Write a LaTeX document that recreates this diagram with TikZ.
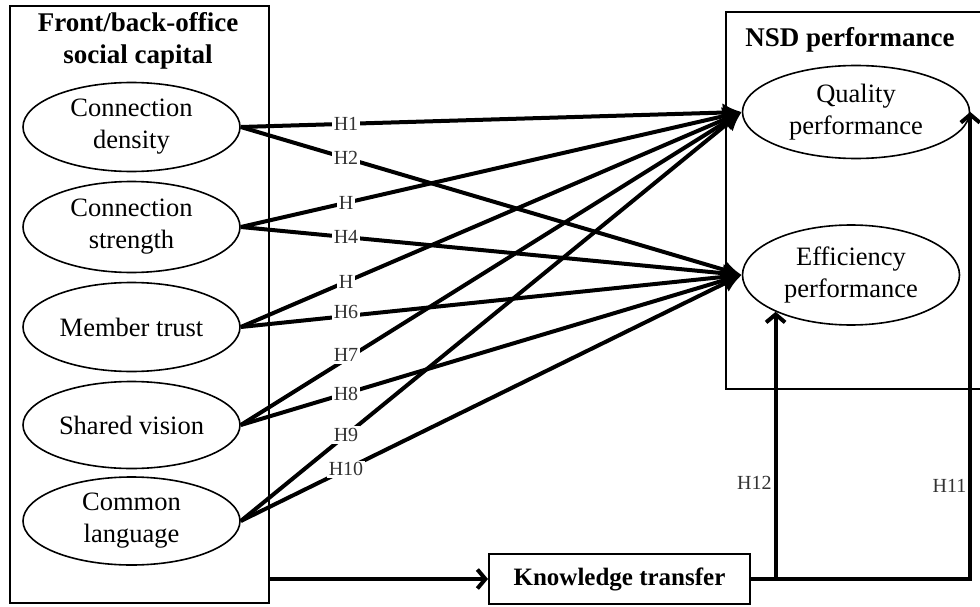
\documentclass[tikz,border=0pt]{standalone}
\usepackage{fontspec}
\setmainfont{Liberation Serif}
\usepackage{tikz}
\usetikzlibrary{shapes.geometric,arrows.meta}
\tikzstyle{factor}=[ellipse,draw,line width=1.6pt,inner sep=0pt,align=center,font=\fontsize{26.5}{32}\selectfont]
\tikzstyle{frame}=[draw,line width=2pt,inner sep=0pt]
\tikzstyle{heading}=[align=center,font=\fontsize{27}{32}\selectfont\bfseries]
\tikzstyle{hyp}=[fill=white,inner sep=2pt,text=black!80,font=\fontsize{20}{20}\selectfont]
\tikzstyle{link}=[line width=4pt,-{Latex[length=19pt,width=19pt]}]
\tikzstyle{feed}=[line width=4pt,-{Straight Barb[length=8pt,width=19pt]}]

\begin{document}
\begin{tikzpicture}[x=1pt,y=-1pt]
          \useasboundingbox (0,0) rectangle (980,607);
          % boxes
          \node[frame,minimum width=259pt,minimum height=597pt] (capital) at (139.5,304.5) {};
          \node[frame,minimum width=264pt,minimum height=377pt] (nsd) at (858,200.5) {};
          \node[heading] (t1) at (138,41) {Front/back-office\\social capital};
          \node[heading] (t2) at (850,40) {NSD performance};
          % social capital
          \node[factor,minimum width=217pt,minimum height=89pt] (dens) at (131.5,127) {Connection\\density};
          \node[factor,minimum width=217pt,minimum height=91pt] (str) at (131.5,227) {Connection\\strength};
          \node[factor,minimum width=217pt,minimum height=89pt] (trust) at (131.5,327) {Member trust};
          \node[factor,minimum width=217pt,minimum height=87pt] (vis) at (131.5,425) {Shared vision};
          \node[factor,minimum width=217pt,minimum height=88pt] (lang) at (131.5,521) {Common\\language};
          % performance
          \node[factor,minimum width=227pt,minimum height=93pt] (qual) at (856,112) {Quality\\performance};
          \node[factor,minimum width=217pt,minimum height=100pt] (eff) at (851,275) {Efficiency\\performance};
          \node[frame,minimum width=261pt,minimum height=50pt,font=\fontsize{25}{26}\selectfont\bfseries] (kt) at (619.5,579) {Knowledge transfer};
          % hypotheses
          \draw[link] (dens.east) -- node[hyp,pos=0.21] {H1} (qual.west);
          \draw[link] (dens.east) -- node[hyp,pos=0.21] {H2} (eff.west);
          \draw[link] (str.east) -- node[hyp,pos=0.21] {H} (qual.west);
          \draw[link] (str.east) -- node[hyp,pos=0.21] {H4} (eff.west);
          \draw[link] (trust.east) -- node[hyp,pos=0.21] {H} (qual.west);
          \draw[link] (trust.east) -- node[hyp,pos=0.21,yshift=4pt] {H6} (eff.west);
          \draw[link] (vis.east) -- node[hyp,pos=0.21,yshift=4pt] {H7} (qual.west);
          \draw[link] (vis.east) -- node[hyp,pos=0.21] {H8} (eff.west);
          \draw[link] (lang.east) -- node[hyp,pos=0.21] {H9} (qual.west);
          \draw[link] (lang.east) -- node[hyp,pos=0.21] {H10} (eff.west);
          % mediation
          \draw[feed] (capital.east |- kt.west) -- (kt.west);
          \draw[feed] (kt.east) -| node[hyp,pos=0.6,left] {H11} (qual.east);
          \draw[feed] (eff.206 |- kt.east) -- node[hyp,pos=0.36,left] {H12} (eff.206);
        \end{tikzpicture}
\end{document}
